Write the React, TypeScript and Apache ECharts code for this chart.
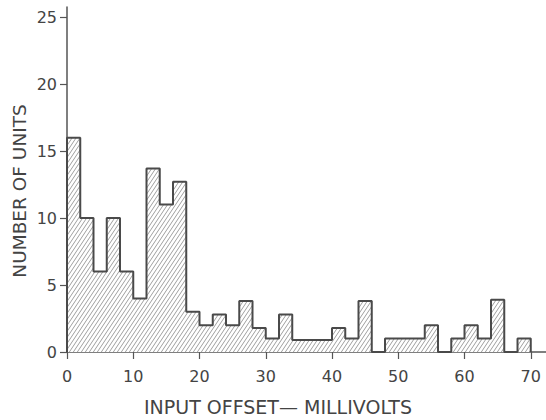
import React, { useEffect, useRef } from "react";
import * as echarts from "echarts";

// Histogram bins (2 mV wide), left edge of each bin in millivolts
const binStarts = [
  0, 2, 4, 6, 8, 10, 12, 14, 16, 18, 20, 22, 24, 26, 28, 30, 32, 34,
  36, 38, 40, 42, 44, 46, 48, 50, 52, 54, 56, 58, 60, 62, 64, 66, 68,
];
const binEnd = 70;
// Number of units in each bin
const unitCounts = [
  16, 10, 6, 10, 6, 4, 13.7, 11, 12.7, 3, 2, 2.8, 2, 3.8, 1.8, 1, 2.8, 0.9,
  0.9, 0.9, 1.8, 1, 3.8, 0, 1, 1, 1, 2, 0, 1, 2, 1, 3.9, 0, 1,
];
const xTicks = [0, 10, 20, 30, 40, 50, 60, 70];
const yTicks = [0, 5, 10, 15, 20, 25];
const xTitle = "INPUT OFFSET\u2014 MILLIVOLTS";
const yTitle = "NUMBER OF UNITS";

function makeHatch(): HTMLCanvasElement {
  const w = 4;
  const h = 6;
  const c = document.createElement("canvas");
  c.width = w;
  c.height = h;
  const ctx = c.getContext("2d")!;
  ctx.fillStyle = "#ffffff";
  ctx.fillRect(0, 0, w, h);
  ctx.strokeStyle = "#a0a0a0";
  ctx.lineWidth = 1;
  for (const dx of [-w, 0, w]) {
    ctx.beginPath();
    ctx.moveTo(dx, h);
    ctx.lineTo(dx + w, 0);
    ctx.stroke();
  }
  return c;
}

export default function App() {
  const ref = useRef<HTMLDivElement>(null);
  useEffect(() => {
    if (!ref.current) return;
    const chart = echarts.init(ref.current, null, { renderer: "svg" });
    const stepData: [number, number][] = [[binStarts[0], 0]];
    binStarts.forEach((x, i) => stepData.push([x, unitCounts[i]]));
    stepData.push([binEnd, 0]);
    const font = "DejaVu Sans";
    const ink = "#444444";
    chart.setOption({
      animation: false,
      backgroundColor: "#ffffff",
      grid: {
        left: 67,
        right: 0,
        top: 7,
        bottom: 68,
        containLabel: false,
        outerBoundsMode: "none",
      },
      xAxis: {
        type: "value",
        min: 0,
        max: 72.3,
        splitLine: { show: false },
        axisLine: { show: true, lineStyle: { color: "#555555", width: 1.5 } },
        axisTick: {
          show: true,
          length: 7,
          customValues: xTicks,
          lineStyle: { color: "#555555", width: 1.2 },
        },
        axisLabel: {
          customValues: xTicks,
          margin: 16,
          fontFamily: font,
          fontSize: 16,
          color: ink,
        },
      },
      yAxis: {
        type: "value",
        min: 0,
        max: 25.75,
        splitLine: { show: false },
        axisLine: { show: true, lineStyle: { color: "#555555", width: 1.5 } },
        axisTick: {
          show: true,
          length: 7,
          customValues: yTicks,
          lineStyle: { color: "#555555", width: 1.2 },
        },
        axisLabel: {
          customValues: yTicks,
          margin: 10,
          fontFamily: font,
          fontSize: 16,
          color: ink,
        },
      },
      graphic: [
        {
          type: "text",
          x: 278,
          y: 407,
          style: {
            text: xTitle,
            fontFamily: font,
            fontSize: 19,
            fill: ink,
            textAlign: "center",
            textVerticalAlign: "middle",
          },
        },
        {
          type: "text",
          x: 19,
          y: 191,
          rotation: Math.PI / 2,
          style: {
            text: yTitle,
            fontFamily: font,
            fontSize: 18.5,
            fill: ink,
            textAlign: "center",
            textVerticalAlign: "middle",
          },
        },
      ],
      series: [
        {
          type: "line",
          step: "end",
          data: stepData,
          symbol: "none",
          lineStyle: { color: "#4a4a4a", width: 2 },
          itemStyle: { color: "#4a4a4a" },
          areaStyle: {
            color: {
              image: makeHatch(),
              repeat: "repeat",
              imageWidth: 4,
              imageHeight: 6,
            },
            opacity: 1,
          },
          z: 1,
        },
      ],
    });
    return () => chart.dispose();
  }, []);
  return <div ref={ref} style={{ width: 546, height: 420, position: "absolute", left: 0, top: 0 }} />;
}
